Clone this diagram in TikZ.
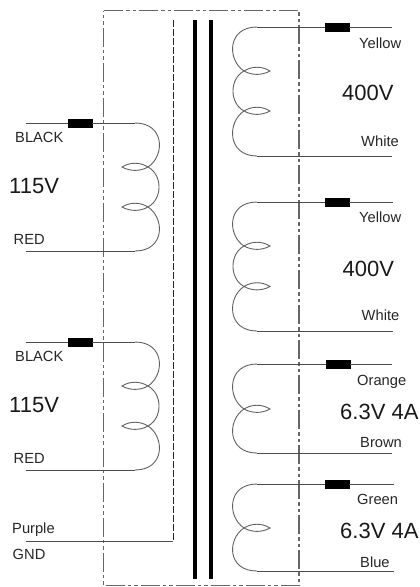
\documentclass[tikz,border=0pt]{standalone}
\usepackage{fontspec}
\setmainfont{Liberation Sans}
\tikzset{
  wire/.style={draw=black!70,line width=0.9pt},
  coilline/.style={draw=black!62,line width=0.9pt},
  border/.style={draw=black!60,line width=1.1pt,dash pattern=on 19pt off 3pt on 4pt off 3pt on 3pt off 3pt},
  shield/.style={draw=black!85,line width=0.8pt,dash pattern=on 7pt off 2pt},
  bar/.style={draw=black,line width=3.7pt},
  lug/.style={draw=black,fill=black,minimum width=24pt,minimum height=8pt,inner sep=0pt,outer sep=0pt},
  small/.style={inner sep=0pt,anchor=base west,text=black!85,font=\fontsize{14.7pt}{15pt}\selectfont},
  big/.style={inner sep=0pt,anchor=base west,text=black!90,font=\fontsize{22pt}{23pt}\selectfont}
}
% #1 name, #2 arc-start x, #3 direction, #4 wire-end x, #5 lug x, #6 top y, #7 bottom y, #8 crossing list
\newcommand{\trafocoil}[8]{%
  \coordinate (#1ta) at (#2,#6);
  \coordinate (#1ba) at (#2,#7);
  \coordinate (#1te) at (#4,#6);
  \coordinate (#1be) at (#4,#7);
  \node[lug] (#1lug) at (#5,#6) {};
  \draw[wire] (#1te) -- (#1lug) -- (#1ta);
  \draw[wire] (#1be) -- (#1ba);
  \foreach \c [remember=\c as \lastc (initially #6), count=\i] in {#8} {
    \ifnum\i=1
      \draw[coilline] (#1ta) .. controls ({#2+30*#3},#6) and ({#2+30*#3},\c-11) .. ({#2+13*#3},\c);
    \else
      \draw[coilline] ({#2+13*#3},\lastc) .. controls ({#2+27.7*#3},\lastc+8) and ({#2+27.7*#3},\c-8) .. ({#2+13*#3},\c);
    \fi
    \draw[coilline] ({#2+13*#3},\c) .. controls ({#2+5*#3},\c+4.5) and ({#2-5*#3},\c+4.5) .. ({#2-13*#3},\c)
       .. controls ({#2-5*#3},\c-5) and ({#2+5*#3},\c-5) .. ({#2+13*#3},\c);
    \xdef\lastcross{\c}
  }
  \draw[coilline] ({#2+13*#3},\lastcross) .. controls ({#2+30*#3},\lastcross+11) and ({#2+30*#3},#7) .. (#1ba);
}
\begin{document}
\begin{tikzpicture}[x=1pt,y=-1pt]
\useasboundingbox (0,0) rectangle (420,587);
% enclosure
\coordinate (tl) at (103.5,10.5);
\coordinate (tr) at (299,10.5);
\coordinate (br) at (299,585.5);
\coordinate (bl) at (103.5,585.5);
\draw[border] (tl) -- (tr) -- (br) -- (bl) -- cycle;
% core
\coordinate (c1t) at (195,20);
\coordinate (c1b) at (195,579);
\coordinate (c2t) at (211.3,20);
\coordinate (c2b) at (211.3,579);
\draw[bar] (c1t) -- (c1b);
\draw[bar] (c2t) -- (c2b);
% shield
\coordinate (st) at (173,20);
\coordinate (sb) at (173,541);
\coordinate (se) at (26,541);
\draw[shield] (st) -- (sb);
\draw[wire] (sb) -- (se);
% coils
\trafocoil{pa}{135}{1}{26}{80}{123}{251}{167,207}
\trafocoil{pb}{135}{1}{26}{80}{342}{470}{386,426}
\trafocoil{sa}{257}{-1}{392}{337}{27}{156}{71,111}
\trafocoil{sb}{257}{-1}{392.5}{337}{202}{331}{246,286.5}
\trafocoil{sc}{257}{-1}{392}{338}{364}{453}{409}
\trafocoil{sd}{257}{-1}{394}{337}{484}{571}{528}
% labels
\node[small] (l1) at (15,142) {BLACK};
\node[big] (l2) at (9,193) {115V};
\node[small] (l3) at (13.5,244) {RED};
\node[small] (l4) at (15,361) {BLACK};
\node[big] (l5) at (9,412) {115V};
\node[small] (l6) at (13.5,463) {RED};
\node[small] (l7) at (12,533) {Purple};
\node[small] (l8) at (12.5,559) {GND};
\node[small] (r1) at (359,48) {Yellow};
\node[big] (r2) at (342,100.5) {400V};
\node[small] (r3) at (361,146) {White};
\node[small] (r4) at (359,222.7) {Yellow};
\node[big] (r5) at (342.5,276) {400V};
\node[small] (r6) at (361.5,320.7) {White};
\node[small] (r7) at (357,385) {Orange};
\node[big] (r8) at (340,419) {6.3V 4A};
\node[small] (r9) at (360,447) {Brown};
\node[small] (r10) at (357,504) {Green};
\node[big] (r11) at (340,538) {6.3V 4A};
\node[small] (r12) at (360,567) {Blue};
\end{tikzpicture}
\end{document}
